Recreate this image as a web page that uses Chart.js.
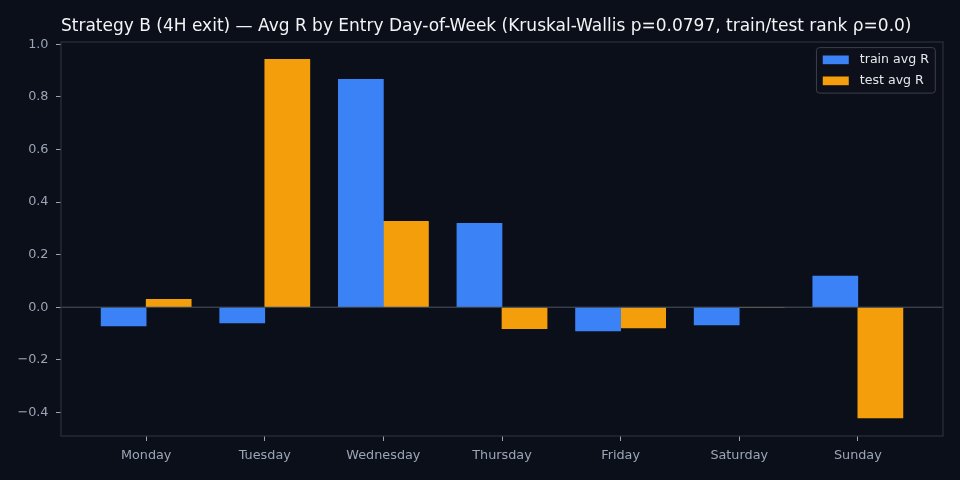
<!DOCTYPE html>
<html>
<head>
<meta charset="utf-8">
<script src="https://cdn.jsdelivr.net/npm/chart.js@4.4.1/dist/chart.umd.min.js"></script>
<style>
  html, body { margin: 0; padding: 0; background: #0b0f19; }
  #wrap { width: 960px; height: 480px; }
</style>
</head>
<body>
<div id="wrap"><canvas id="grafico" width="960" height="480"></canvas></div>
<script>
const dias = ['Monday', 'Tuesday', 'Wednesday', 'Thursday', 'Friday', 'Saturday', 'Sunday'];
const trainAvgR = [-0.071, -0.060, 0.867, 0.319, -0.090, -0.067, 0.118];
const testAvgR = [0.030, 0.943, 0.327, -0.082, -0.079, 0.0, -0.421];
const yTicks = [-0.4, -0.2, 0.0, 0.2, 0.4, 0.6, 0.8, 1.0];

const tituloTexto = 'Strategy B (4H exit) \u2014 Avg R by Entry Day-of-Week (Kruskal-Wallis p=0.0797, train/test rank \u03c1=0.0)';
const larguraBarra = 0.38;
const corFundo = '#0b0f19';
const corEixo = '#2a303c';
const corTexto = '#9ca5b6';
const fonte = 'DejaVu Sans';

// fundo, moldura, linha do zero e legenda
const pluginExtras = {
    id: 'extras',
    beforeDraw(chart) {
        const c = chart.ctx;
        c.save();
        c.fillStyle = corFundo;
        c.fillRect(0, 0, chart.width, chart.height);
        c.restore();
    },
    afterDatasetsDraw(chart) {
        const c = chart.ctx;
        const a = chart.chartArea;
        const y0 = chart.scales.y.getPixelForValue(0);
        c.save();
        c.strokeStyle = '#4b5563';
        c.lineWidth = 1;
        c.beginPath();
        c.moveTo(a.left, y0);
        c.lineTo(a.right, y0);
        c.stroke();

        c.strokeStyle = corEixo;
        c.lineWidth = 1.2;
        c.strokeRect(a.left, a.top, a.right - a.left, a.bottom - a.top);

        // legenda
        c.font = '12.6px "' + fonte + '"';
        const itens = chart.data.datasets;
        let maxTxt = 0;
        itens.forEach(d => { maxTxt = Math.max(maxTxt, c.measureText(d.label).width); });
        const w = 6.3 + 26 + 11 + maxTxt + 6.3;
        const h = 45.5;
        const x = a.right - 7.7 - w;
        const y = a.top + 5.6;
        c.fillStyle = 'rgba(13, 17, 27, 0.9)';
        c.strokeStyle = '#3a404c';
        c.lineWidth = 1;
        c.beginPath();
        c.roundRect(x, y, w, h, 3);
        c.fill();
        c.stroke();
        c.textBaseline = 'middle';
        itens.forEach((d, i) => {
            const cy = y + 12.2 + i * 21;
            c.fillStyle = d.backgroundColor;
            c.fillRect(x + 6.3, cy - 4.3, 26, 8.7);
            c.fillStyle = '#e5e7eb';
            c.fillText(d.label, x + 6.3 + 26 + 11, cy);
        });
        c.restore();
    }
};

function formatarY(v) {
    const s = Math.abs(v).toFixed(1);
    return v < -1e-9 ? '\u2212' + s : s;
}

const ctx1 = document.getElementById('grafico');
const grafico = new Chart(ctx1, {
    type: 'bar',
    data: {
        datasets: [{
            label: 'train avg R',
            data: trainAvgR.map((v, i) => ({ x: i - larguraBarra / 2, y: v })),
            backgroundColor: '#3b82f6',
            grouped: false,
            categoryPercentage: 1,
            barPercentage: 1
        }, {
            label: 'test avg R',
            data: testAvgR.map((v, i) => ({ x: i + larguraBarra / 2, y: v })),
            backgroundColor: '#f59e0b',
            grouped: false,
            categoryPercentage: 1,
            barPercentage: 1
        }]
    },
    options: {
        responsive: false,
        animation: false,
        devicePixelRatio: 1,
        layout: { padding: { left: 0, right: 17, top: 0, bottom: 0 } },
        plugins: {
            legend: { display: false },
            tooltip: { enabled: false },
            title: {
                display: true,
                text: tituloTexto,
                align: 'start',
                fullSize: false,
                color: '#f3f4f6',
                font: { family: fonte, size: 17, weight: 'normal', lineHeight: 1.2 },
                padding: { top: 16.5, bottom: 5.1 }
            }
        },
        scales: {
            x: {
                type: 'linear',
                offset: false,
                min: -0.718,
                max: 6.718,
                afterBuildTicks(scale) {
                    scale.ticks = dias.map((d, i) => ({ value: i }));
                },
                afterFit(scale) { scale.height = 44; },
                ticks: {
                    color: corTexto,
                    font: { family: fonte, size: 12.8 },
                    padding: 6.5,
                    maxRotation: 0,
                    autoSkip: false,
                    callback: (v) => dias[v]
                },
                grid: {
                    offset: false,
                    drawOnChartArea: false,
                    drawTicks: true,
                    tickLength: 5,
                    tickColor: corTexto
                },
                border: { display: false }
            },
            y: {
                min: -0.49,
                max: 1.009,
                afterBuildTicks(scale) {
                    scale.ticks = yTicks.map(v => ({ value: v }));
                },
                afterFit(scale) { scale.width = 61; },
                ticks: {
                    color: corTexto,
                    font: { family: fonte, size: 12.8 },
                    padding: 7.5,
                    callback: (v) => formatarY(v)
                },
                grid: {
                    drawOnChartArea: false,
                    drawTicks: true,
                    tickLength: 5,
                    tickColor: corTexto
                },
                border: { display: false }
            }
        }
    },
    plugins: [pluginExtras]
});
</script>
</body>
</html>
